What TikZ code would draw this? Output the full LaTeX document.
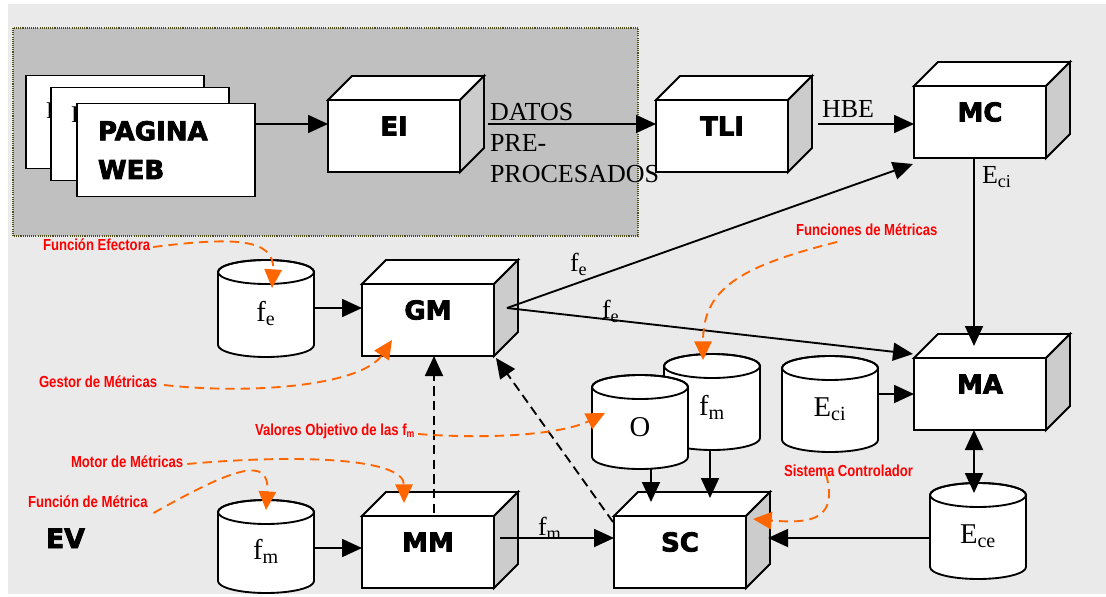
\documentclass[tikz,border=0pt]{standalone}
\usepackage{fontspec}
\setmainfont{Liberation Serif}
\newfontfamily\heavyfont[UprightFont={* Bold}, FakeBold=3]{DejaVu Sans}
\newfontfamily\narrowfont[FakeStretch=0.82]{Liberation Sans}
\usetikzlibrary{arrows.meta,calc}

\definecolor{bg}{HTML}{EAEAEA}
\definecolor{panel}{HTML}{C0C0C0}
\definecolor{sidegray}{HTML}{CCCCCC}
\definecolor{dotline}{HTML}{4D4D1A}
\definecolor{orng}{HTML}{FF6600}
\definecolor{redtxt}{HTML}{FF0000}

\tikzset{
  every node/.style={inner sep=0pt, outer sep=0pt},
  edge/.style={line width=1.4pt, draw=black},
  arr/.style={edge, -{Triangle[length=15pt,width=13.5pt]}},
  dblarr/.style={edge, {Triangle[length=15pt,width=13.5pt]}-{Triangle[length=15pt,width=13.5pt]}},
  dasharr/.style={arr, dash pattern=on 7pt off 4pt},
  orarr/.style={draw=orng, line width=1.4pt, dash pattern=on 7pt off 4.5pt, -{Triangle[length=14pt,width=13pt]}},
  cubeface/.style={draw, fill=white, line width=1.4pt, minimum width=99pt, minimum height=54pt},
  cubelabel/.style={font=\heavyfont\fontsize{19.5}{20}\selectfont, yshift=7.5pt},
  cylbox/.style={minimum width=72pt},
  cyllabel/.style={font=\fontsize{21.5}{24}\selectfont, yshift=-3.75pt},
  page/.style={draw, fill=white, line width=1.4pt, minimum width=133.5pt, minimum height=69.75pt},
  pagetxt/.style={font=\fontsize{18}{20}\selectfont},
  sertxt/.style={font=\fontsize{19.5}{23.25}\selectfont},
  redlbl/.style={font=\narrowfont\bfseries\fontsize{12}{14}\selectfont, text=redtxt},
  heavytxt/.style={font=\heavyfont\fontsize{20}{22}\selectfont},
}

% a processing block drawn as a box in perspective
\newcommand\cubeat[4]{%
  \node[cubeface, label={[cubelabel]center:#4}] (#1) at (#2,#3) {};
  \filldraw[fill=white, line width=1.4pt] (#1.north west) -- ++(24,-24)
     -- ($(#1.north east)+(24,-24)$) -- (#1.north east) -- cycle;
  \filldraw[fill=sidegray, line width=1.4pt] (#1.north east) -- ++(24,-24)
     -- ($(#1.south east)+(24,-24)$) -- (#1.south east) -- cycle;
}

% a data store drawn as a cylinder: name, centre x, top y, bottom y, text
\newcommand\cylat[5]{%
  \filldraw[fill=white, line width=1.4pt] (#2-48,#3) -- (#2-48,#4)
     arc[start angle=180, end angle=0, x radius=48, y radius=12]
     -- (#2+48,#3)
     arc[start angle=0, end angle=-180, x radius=48, y radius=12] -- cycle;
  \draw[line width=1.4pt] (#2,#3) ellipse[x radius=48, y radius=12];
  \pgfmathsetmacro\cylh{(#4-#3+24)*0.75}%
  \pgfmathsetmacro\cylc{(#3+#4)/2}%
  \node[cylbox, minimum height=\cylh pt, label={[cyllabel]center:#5}] (#1) at (#2,\cylc) {};
}

\begin{document}
\begin{tikzpicture}[x=0.75pt,y=-0.75pt]
\useasboundingbox (0,0) rectangle (1106,596);
\fill[white] (0,0) rectangle (1106,596);
\fill[bg] (8,4) rectangle (1106,594);

% shaded acquisition area
\fill[panel] (13,28) rectangle (638,236);
\draw[dotline, line width=1.1pt, dash pattern=on 0.8pt off 0.8pt] (13,28) rectangle (638,236);

% stacked web pages; the pages behind show only the edge of their title
\node[page] (pg1) at (115,122) {};
\node[pagetxt, anchor=north west] (pg1t) at (46,103) {P};
\node[page] (pg2) at (140,134) {};
\node[pagetxt, anchor=north west] (pg2t) at (71,107) {P};
\node[page, text width=102pt, inner xsep=15.75pt, align=left,
      font=\heavyfont\fontsize{19.5}{29}\selectfont] (pg3) at (166,150) {PAGINA\\WEB};

% processing blocks
\cubeat{EI}{394}{136}{EI}
\cubeat{TLI}{722}{136}{TLI}
\cubeat{MC}{980}{122}{MC}
\cubeat{GM}{428}{320}{GM}
\cubeat{MM}{428}{552}{MM}
\cubeat{SC}{680}{552}{SC}
\cubeat{MA}{980}{394}{MA}

% data stores
\cylat{fmR}{712}{366}{438}{f\textsubscript{m}}
\cylat{O}{640}{387}{457}{O}
\cylat{fe}{266}{272}{345}{f\textsubscript{e}}
\cylat{fmL}{266}{512}{581}{f\textsubscript{m}}
\cylat{Eci}{830}{368}{440}{E\textsubscript{ci}}
\cylat{Ece}{978}{495}{567}{E\textsubscript{ce}}

% connection points
\coordinate (EIin) at ($(EI.west)+(0,-12)$);
\coordinate (TLIin) at ($(TLI.west)+(0,-12)$);
\coordinate (GMin) at ($(GM.west)+(0,-12)$);
\coordinate (GMout) at ($(GM.east)+(13,-12)$);
\coordinate (MMin) at ($(MM.west)+(0,-4)$);
\coordinate (SCin) at ($(SC.west)+(0,-14)$);
\coordinate (SCside) at ($(SC.east)+(22,-14)$);

% data flow
\draw[arr] (pg3.east |- EIin) -- (EIin);
\draw[arr] ($(EI.east)+(28,-12)$) -- (TLIin);
\draw[arr] ($(TLI.east)+(30,-12)$) -- (MC.west |- TLIin);
\draw[arr] (fe.east |- GMin) -- (GMin);
\draw[arr] (GMout) -- ($(MC.south west)+(-1,6)$);
\draw[arr] (GMout) -- ($(MA.north west)+(-1,-4)$);
\draw[arr] ($(MC.south)+(-6,0)$) -- ($(MA.north)+(-6,-12)$);
\draw[dblarr] ($(MA.south)+(-6,0)$) -- ($(Ece.north)+(-4,10)$);
\draw[arr] (Eci.east |- MA.west) -- (MA.west);
\draw[arr] (Ece.west |- SCside) -- (SCside);
\draw[arr] (fmL.east |- MMin) -- (MMin);
\draw[arr] ($(MM.east)+(6,-14)$) -- (SCin);
\draw[arr] ($(O.south)+(11,0)$) -- ($(SC.north)+(-29,-14)$);
\draw[arr] ($(fmR.south)+(-2,0)$) -- ($(SC.north)+(30,-18)$);
\draw[dasharr] ($(MM.north)+(6,-3)$) -- ($(GM.south)+(6,0)$);
\draw[dasharr] ($(SC.north west)+(-1,6)$) -- ($(GM.south east)+(2,2)$);

% flow labels
\node[sertxt, anchor=north west, align=left] (datos) at (490,103) {DATOS\\PRE-\\PROCESADOS};
\node[sertxt, anchor=base west] (hbe) at (822,117) {HBE};
\node[sertxt, anchor=base west] (eciL) at (982,183) {E\textsubscript{ci}};
\node[sertxt, anchor=base west] (fe1) at (570,271) {f\textsubscript{e}};
\node[sertxt, anchor=base west] (fe2) at (602,318) {f\textsubscript{e}};
\node[sertxt, anchor=base west] (fm3) at (538,535) {f\textsubscript{m}};
\node[heavytxt, anchor=base west] (ev) at (46,548) {EV};

% annotations
\node[redlbl, anchor=base west] (lFE) at (43,250) {Función Efectora};
\node[redlbl, anchor=base west] (lFU) at (796,235) {Funciones de Métricas};
\node[redlbl, anchor=base west] (lGM) at (39,387) {Gestor de Métricas};
\node[redlbl, anchor=base west] (lVO) at (255,435) {Valores Objetivo de las f\textsubscript{m}};
\node[redlbl, anchor=base west] (lMO) at (71,467) {Motor de Métricas};
\node[redlbl, anchor=base west] (lFM) at (28,507) {Función de Métrica};
\node[redlbl, anchor=base west] (lSC) at (784,476) {Sistema Controlador};

\draw[orarr] ($(lFE.base east)+(3,-3)$) .. controls +(80,-10) and +(3,-50) .. ($(fe.north)+(6,28)$);
\draw[orarr] ($(lGM.base east)+(7,-2)$) .. controls +(90,10) and +(-30,45) .. ($(GM.south west)+(30,-16)$);
\draw[orarr] ($(lVO.base east)+(3,-1)$) .. controls +(80,6) and +(-40,20) .. ($(O.west)+(13,-9)$);
\draw[orarr] ($(lMO.base east)+(4,-3)$) .. controls +(110,-10) and +(0,-45) .. ($(MM.north)+(-24,-13)$);
\draw[orarr] ($(lFM.base east)+(6,6)$) .. controls +(80,-45) and +(4,-55) .. ($(fmL.north)+(0,10)$);
\draw[orarr] ($(lFU.base west)+(41,7)$) .. controls +(-100,25) and +(0,-70) .. ($(fmR.north)+(-9,6)$);
\draw[orarr] ($(lSC.base west)+(42,-2)$) .. controls +(12,45) and +(60,5) .. ($(SC.east)+(7,-33)$);
\end{tikzpicture}
\end{document}
